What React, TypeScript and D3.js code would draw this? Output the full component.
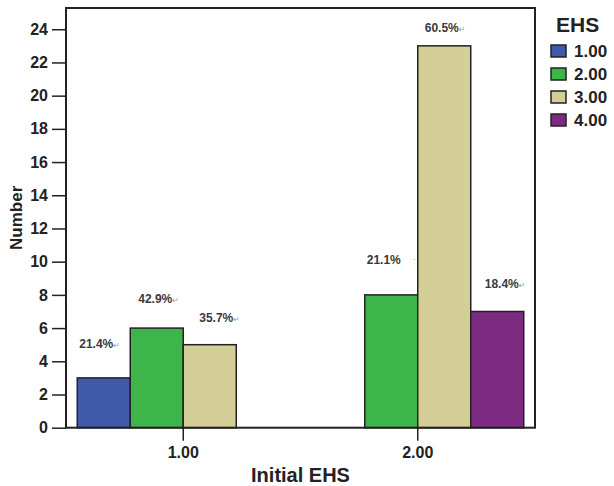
import React, { useEffect, useRef } from 'react';
import * as d3 from 'd3';

// Grouped bar chart: Initial EHS vs EHS
const groups = ['1.00', '2.00'];
const series = ['1.00', '2.00', '3.00', '4.00'];
// counts per series, one entry per group
const counts = [
  [3, 0],   // EHS 1.00
  [6, 8],   // EHS 2.00
  [5, 23],  // EHS 3.00
  [0, 7],   // EHS 4.00
];
const pctLabels = [
  ['21.4%', ''],
  ['42.9%', '21.1%'],
  ['35.7%', '60.5%'],
  ['', '18.4%'],
];
const yTicks = [0, 2, 4, 6, 8, 10, 12, 14, 16, 18, 20, 22, 24];

const colors = ['#4059a8', '#3db54a', '#d4cf98', '#7c2a82'];

// where each % label sits relative to its bar's top-left corner
const labelOffsets: Record<string, { dx: number; dy: number; tail?: number }> = {
  '0-0': { dx: 2, dy: -30 },
  '1-0': { dx: 8, dy: -25 },
  '2-0': { dx: 16, dy: -23 },
  '1-1': { dx: 2, dy: -31, tail: 46 },
  '2-1': { dx: 7, dy: -14 },
  '3-1': { dx: 14, dy: -23.5 },
};

const App = () => {
  const svgRef = useRef<SVGSVGElement>(null);

  useEffect(() => {
    const width = 614;
    const height = 486;
    const plot = { left: 66, top: 8, right: 535, bottom: 427.7 };
    const font = '"Liberation Sans", Arial, sans-serif';

    const svg = d3.select(svgRef.current);
    svg.selectAll('*').remove();
    svg.attr('width', width).attr('height', height);

    svg.append('rect').attr('width', width).attr('height', height).attr('fill', '#fff');

    const x0 = d3.scaleBand()
      .domain(groups)
      .range([plot.left, plot.right])
      .paddingInner(0.096)
      .paddingOuter(0.048);

    const x1 = d3.scaleBand()
      .domain(series)
      .range([0, x0.bandwidth()]);

    const y = d3.scaleLinear()
      .domain([0, 25.28])
      .range([plot.bottom, plot.top]);

    // bars
    series.forEach((s, si) => {
      groups.forEach((g, gi) => {
        const v = counts[si][gi];
        if (!v) return;
        svg.append('rect')
          .attr('x', x0(g)! + x1(s)!)
          .attr('y', y(v))
          .attr('width', x1.bandwidth())
          .attr('height', y(0) - y(v))
          .attr('fill', colors[si])
          .attr('stroke', '#222')
          .attr('stroke-width', 1.5);
      });
    });

    // frame
    svg.append('rect')
      .attr('x', plot.left)
      .attr('y', plot.top)
      .attr('width', plot.right - plot.left)
      .attr('height', plot.bottom - plot.top)
      .attr('fill', 'none')
      .attr('stroke', '#222')
      .attr('stroke-width', 2);

    // y axis
    const yAxis = svg.append('g')
      .attr('transform', `translate(${plot.left},0)`)
      .call(d3.axisLeft(y).tickValues(yTicks).tickSize(14).tickPadding(4));
    yAxis.select('.domain').remove();
    yAxis.selectAll('line').attr('stroke', '#222').attr('stroke-width', 1.5);
    yAxis.selectAll('text')
      .attr('font-family', font)
      .attr('font-size', 16)
      .attr('font-weight', 'bold')
      .attr('fill', '#222');

    // x axis
    const xAxis = svg.append('g')
      .attr('transform', `translate(0,${plot.bottom})`)
      .call(d3.axisBottom(x0).tickSize(13).tickPadding(6));
    xAxis.select('.domain').remove();
    xAxis.selectAll('line').attr('stroke', '#222').attr('stroke-width', 1.5);
    xAxis.selectAll('text')
      .attr('font-family', font)
      .attr('font-size', 16)
      .attr('font-weight', 'bold')
      .attr('fill', '#222');

    // percentage labels
    series.forEach((s, si) => {
      groups.forEach((g, gi) => {
        const text = pctLabels[si][gi];
        if (!text) return;
        const off = labelOffsets[`${si}-${gi}`];
        const bx = x0(g)! + x1(s)! + off.dx;
        const by = y(counts[si][gi]) + off.dy;
        const t = svg.append('text')
          .attr('x', bx)
          .attr('y', by)
          .attr('font-family', font)
          .attr('font-size', 12)
          .attr('font-weight', 'bold')
          .attr('fill', '#3a3a3a')
          .text(text);
        if (off.tail) {
          svg.append('text')
            .attr('x', bx + off.tail)
            .attr('y', by - 2)
            .attr('font-family', font)
            .attr('font-size', 9)
            .attr('fill', '#999')
            .text('·');
        } else {
          t.append('tspan')
            .attr('font-size', 8)
            .attr('font-weight', 'normal')
            .attr('fill', '#999')
            .attr('font-family', '"DejaVu Sans", sans-serif')
            .text('↵');
        }
      });
    });

    // axis titles
    svg.append('text')
      .attr('x', (plot.left + plot.right) / 2)
      .attr('y', 482)
      .attr('text-anchor', 'middle')
      .attr('font-family', font)
      .attr('font-size', 20)
      .attr('font-weight', 'bold')
      .attr('fill', '#222')
      .text('Initial EHS');

    svg.append('text')
      .attr('transform', `translate(22,${(plot.top + plot.bottom) / 2}) rotate(-90)`)
      .attr('text-anchor', 'middle')
      .attr('font-family', font)
      .attr('font-size', 17)
      .attr('font-weight', 'bold')
      .attr('fill', '#222')
      .text('Number');

    // legend
    const legend = svg.append('g').attr('transform', 'translate(551,0)');
    legend.append('text')
      .attr('x', 5)
      .attr('y', 32)
      .attr('font-family', font)
      .attr('font-size', 21)
      .attr('font-weight', 'bold')
      .attr('fill', '#222')
      .text('EHS');

    series.forEach((s, i) => {
      const cy = 51 + i * 23;
      legend.append('rect')
        .attr('x', 0)
        .attr('y', cy - 6)
        .attr('width', 15)
        .attr('height', 12)
        .attr('fill', colors[i])
        .attr('stroke', '#222')
        .attr('stroke-width', 1.5);
      legend.append('text')
        .attr('x', 23)
        .attr('y', cy + 6)
        .attr('font-family', font)
        .attr('font-size', 17)
        .attr('font-weight', 'bold')
        .attr('fill', '#222')
        .text(s);
    });
  }, []);

  return (
    <svg ref={svgRef} style={{ position: 'absolute', left: 0, top: 0 }}></svg>
  );
};

export default App;
